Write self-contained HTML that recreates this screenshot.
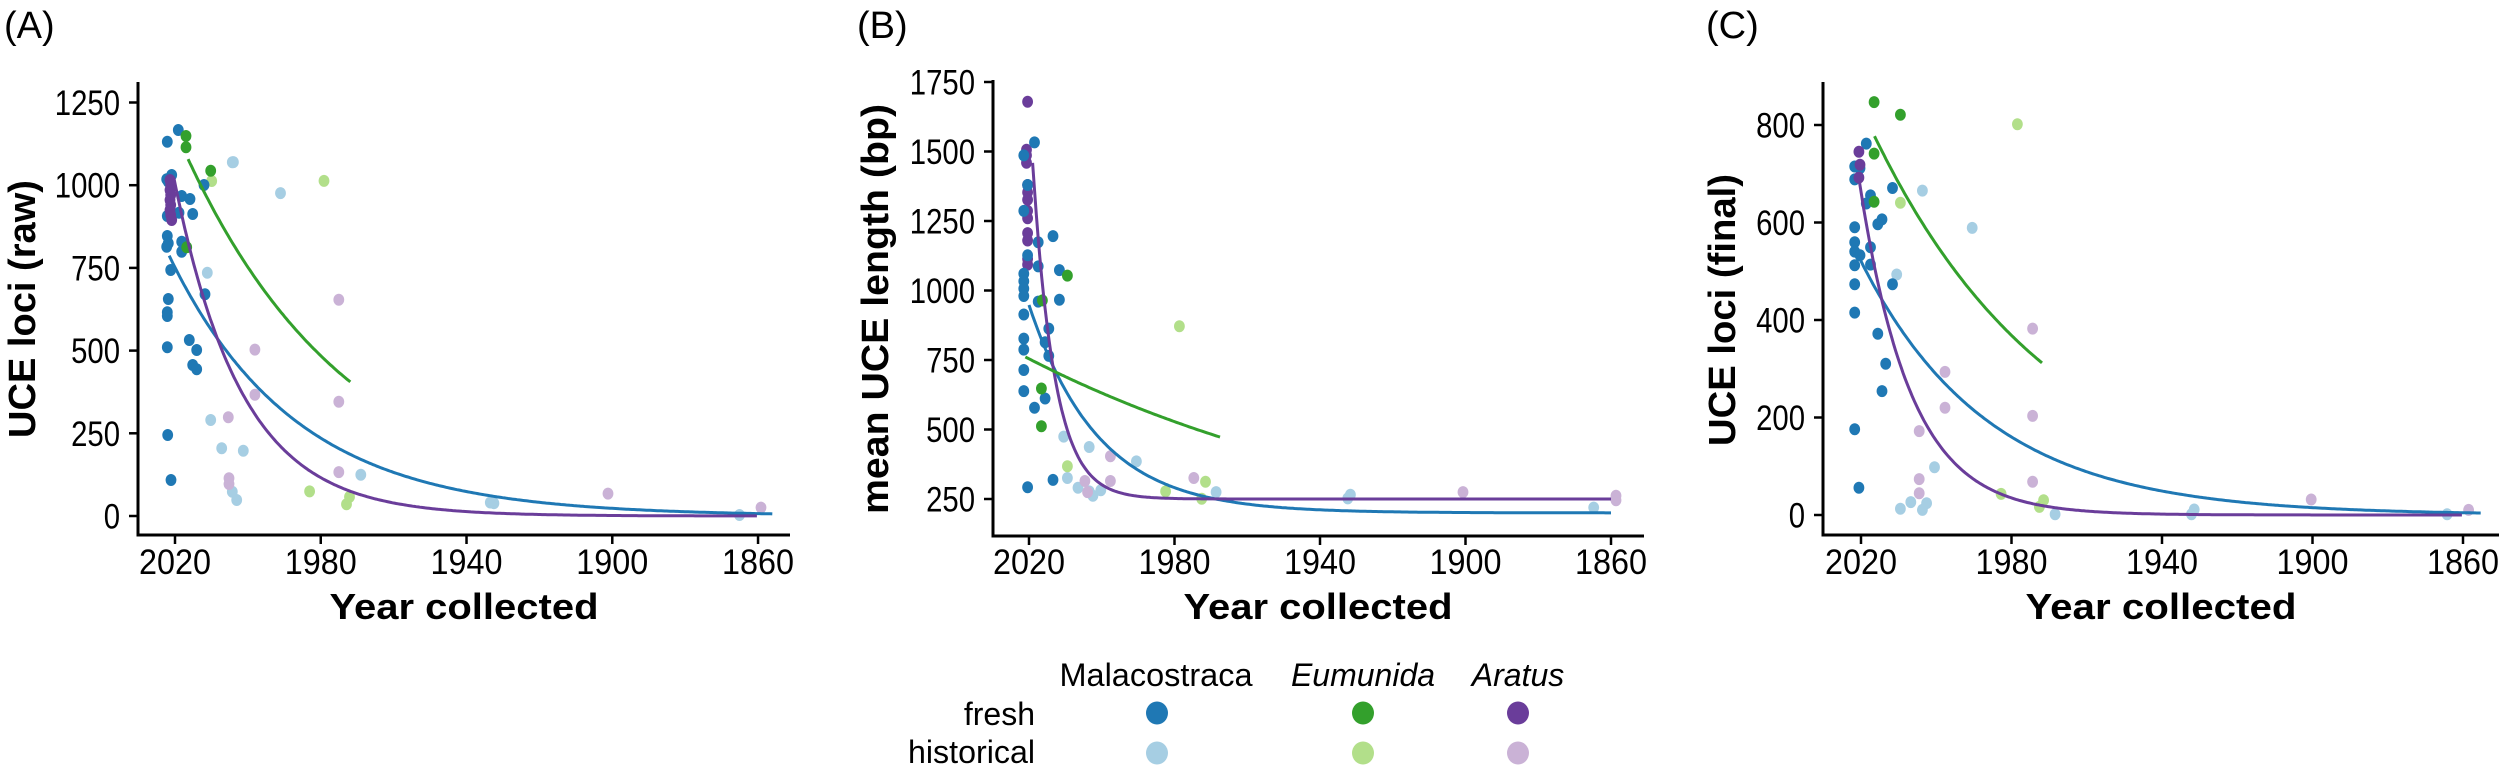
<!DOCTYPE html>
<html><head><meta charset="utf-8"><style>
html,body{margin:0;padding:0;background:#fff;width:2500px;height:769px;overflow:hidden}
svg{display:block}
text{font-family:"Liberation Sans",sans-serif;fill:#000}
</style></head><body>
<svg id="s" width="2500" height="769" viewBox="0 0 2500 769" xmlns="http://www.w3.org/2000/svg"></svg>
<script>
const S=document.getElementById('s');let h='';
const C={db:'#1f78b4',lb:'#a6cee3',g:'#33a02c',lg:'#b2df8a',p:'#6a3d9a',lp:'#cab2d6'};
function T(x,y,t,o){o=o||{};let a=`x="${x}" y="${y}" font-size="${o.fs||32}"`;
 if(o.anchor)a+=` text-anchor="${o.anchor}"`;if(o.bold)a+=` font-weight="bold"`;if(o.it)a+=` font-style="italic"`;
 if(o.len)a+=` textLength="${o.len}" lengthAdjust="spacingAndGlyphs"`;if(o.tr)a+=` transform="${o.tr}"`;
 h+=`<text ${a}>${t}</text>`;}
function L(x1,y1,x2,y2,w){h+=`<line x1="${x1}" y1="${y1}" x2="${x2}" y2="${y2}" stroke="#000" stroke-width="${w||3}"/>`;}
function pts(list,col,fx,fy){for(const p of list){h+=`<ellipse cx="${(fx(p[0])).toFixed(1)}" cy="${(fy(p[1])).toFixed(1)}" rx="5.4" ry="6" fill="${C[col]}"/>`;}}
function curve(fx,fy,f,y0,y1,col){let d='';for(let yr=y0;yr>=y1;yr-=0.5){d+=(d?'L':'M')+fx(yr).toFixed(1)+','+fy(f(yr)).toFixed(1);}
 h+=`<path d="${d}" fill="none" stroke="${C[col]}" stroke-width="3"/>`;}
function panel(P){
 L(P.ax,P.top,P.ax,P.bot+1.5);L(P.ax-1.5,P.bot,P.right,P.bot);
 for(const v of P.yt){const y=P.vy(v);L(P.ax-9,y,P.ax,y,2.5);T(P.ax-18,y+12.5,v,{anchor:'end',fs:35,len:16.3*String(v).length});}
 for(const yr of [2020,1980,1940,1900,1860]){const x=P.yx(yr);L(x,P.bot,x,P.bot+9,2.5);T(x,574,yr,{anchor:'middle',fs:35,len:72});}
 T(P.tx,619,'Year collected',{anchor:'middle',bold:1,fs:36,len:P.tlen});
 T(0,0,P.ylab,{anchor:'middle',bold:1,fs:38,len:P.ylen,tr:`translate(${P.ylx+13},${P.lyc}) rotate(-90)`});
 T(P.lx,38,P.letter,{fs:38});
}
const A={ax:138,top:82,bot:535,right:790,yx:y=>175+(2020-y)*3.644,vy:v=>516-v*0.3308,yt:[0,250,500,750,1000,1250],tx:464,tlen:269,ylab:'UCE loci (raw)',ylen:258,ylx:22,lyc:309,lx:4,letter:'(A)'};
panel(A);
const z3x=x=>x/3,z3y=y=>y/3+100,z1x=x=>x/1.954,z1y=y=>y*0.37;
pts([[697,187],[622,518],[632,960],[665,1045],[730,1052],[697,1175],[710,1200]],'lb',z3x,z3y);
pts([[456,438],[548,522],[705,1283],[965,1360],[958,1358],[1445,1392]],'lb',z1x,z1y);
pts([[685,952],[687,1135],[687,1152]],'lp',z3x,z3y);
pts([[498,945],[662,810],[498,1067],[662,1086],[662,1276],[1188,1334],[1487,1372]],'lp',z1x,z1y);
pts([[633,489],[605,1328],[683,1343],[677,1363]],'lg',z1x,z1y);
pts([[635,243]],'lg',z3x,z3y);
pts([[535,90],[502,125],[500,238],[515,225],[505,245],[545,288],[570,297],[502,348],[537,338],[578,342],[502,408],[505,430],[500,440],[545,425],[545,455],[612,255],[512,510],[615,583],[505,597],[502,637],[502,648],[568,720],[590,750],[502,742],[578,795],[590,808],[503,1005],[513,1140]],'db',z3x,z3y);
pts([[558,108],[558,142],[632,212],[560,442]],'g',z3x,z3y);
pts([[510,240],[512,255],[510,270],[512,285],[510,300],[512,315],[510,330],[512,345],[515,360]],'p',z3x,z3y);
curve(A.yx,A.vy,y=>787*Math.exp(-0.029*(2021.6-y)),2021.6,1856,'db');
curve(A.yx,A.vy,y=>1022*Math.exp(-0.054*(2020.3-y)),2020.3,1860,'p');
curve(A.yx,A.vy,y=>1079*Math.exp(-0.022*(2016.4-y)),2016.4,1971.6,'g');
const B={ax:993,top:80,bot:536,right:1644,yx:y=>1029+(2020-y)*3.6375,vy:v=>499-(v-250)*0.278,yt:[250,500,750,1000,1250,1500,1750],tx:1318,tlen:269,ylab:'mean UCE length (bp)',ylen:410,ylx:875,lyc:309,lx:857,letter:'(B)'};
panel(B);
const z5x=x=>x/1.883+830,z5y=y=>y*0.37;
pts([[440,1180],[488,1208],[447,1292],[577,1247],[467,1318],[488,1328],[495,1340],[510,1325],[727,1330],[975,1347],[980,1337],[1438,1372]],'lb',z5x,z5y);
pts([[528,1233],[480,1300],[528,1300],[685,1292],[1192,1330],[1480,1340],[1480,1352],[485,1330]],'lp',z5x,z5y);
pts([[658,882],[447,1260],[632,1328],[707,1302],[700,1348]],'lg',z5x,z5y);
pts([[372,275],[370,405],[370,420],[370,440],[372,500],[372,520],[372,540],[372,570],[372,590],[372,630],[372,650],[372,700],[372,715]],'p',z5x,z5y);
pts([[365,420],[385,385],[372,500],[365,570],[372,690],[392,655],[420,638],[392,720],[365,740],[365,760],[365,780],[365,800],[392,815],[432,730],[432,810],[365,850],[412,888],[365,915],[405,925],[365,945],[412,962],[365,1057],[405,1077],[385,1102],[420,1297],[372,1317],[365,1000]],'db',z5x,z5y);
pts([[447,745],[400,812],[398,1050],[398,1152]],'g',z5x,z5y);
curve(B.yx,B.vy,y=>200+748*Math.exp(-0.0527*(2020-y)),2020,1860,'db');
curve(B.yx,B.vy,y=>250+1209*Math.exp(-0.166*(2019-y)),2019,1860,'p');
curve(B.yx,B.vy,y=>761*Math.exp(-0.0089*(2021-y)),2021,1967.5,'g');
const Cp={ax:1823,top:82,bot:535,right:2499,yx:y=>1861+(2020-y)*3.7625,vy:v=>515-v*0.4875,yt:[0,200,400,600,800],tx:2161,tlen:271,ylab:'UCE loci (final)',ylen:272,ylx:1722,lyc:310,lx:1706,letter:'(C)'};
panel(Cp);
const z6x=x=>x/1.906+1680,z6y=y=>y*0.37;
pts([[462,515],[557,616],[413,742],[485,1263],[420,1375],[440,1357],[462,1378],[470,1360],[715,1390],[975,1390],[980,1377],[1462,1390]],'lb',z6x,z6y);
pts([[672,888],[505,1005],[505,1102],[672,1124],[456,1165],[456,1295],[456,1333],[672,1302],[1203,1350],[1503,1378]],'lp',z6x,z6y);
pts([[643,336],[420,548],[612,1335],[685,1370],[693,1352]],'lg',z6x,z6y);
pts([[355,388],[333,450],[343,455],[333,485],[363,528],[355,550],[405,508],[385,593],[377,606],[333,614],[333,655],[333,680],[343,690],[363,668],[333,717],[363,715],[333,768],[405,768],[333,845],[377,902],[392,983],[385,1057],[333,1160],[341,1318]],'db',z6x,z6y);
pts([[341,410],[343,445],[341,480]],'p',z6x,z6y);
pts([[370,276],[420,310],[370,415],[370,545]],'g',z6x,z6y);
curve(Cp.yx,Cp.vy,y=>533*Math.exp(-0.0295*(2020.8-y)),2020.8,1855,'db');
curve(Cp.yx,Cp.vy,y=>703*Math.exp(-0.0735*(2020.8-y)),2020.8,1860,'p');
curve(Cp.yx,Cp.vy,y=>777*Math.exp(-0.0205*(2016.4-y)),2016.4,1971.6,'g');
T(1156,686,'Malacostraca',{anchor:'middle',fs:32,len:193});
T(1363,686,'Eumunida',{anchor:'middle',fs:32,it:1});
T(1518,686,'Aratus',{anchor:'middle',fs:32,it:1});
T(1035,725,'fresh',{anchor:'end',fs:32});
T(1035,763,'historical',{anchor:'end',fs:32,len:127});
[[1157,'db','lb'],[1363,'g','lg'],[1518,'p','lp']].forEach(([x,a,b])=>{
 h+=`<ellipse cx="${x}" cy="713" rx="11" ry="11.5" fill="${C[a]}"/>`;
 h+=`<ellipse cx="${x}" cy="753" rx="11" ry="11.5" fill="${C[b]}"/>`;});
S.innerHTML=h;
</script>
</body></html>
